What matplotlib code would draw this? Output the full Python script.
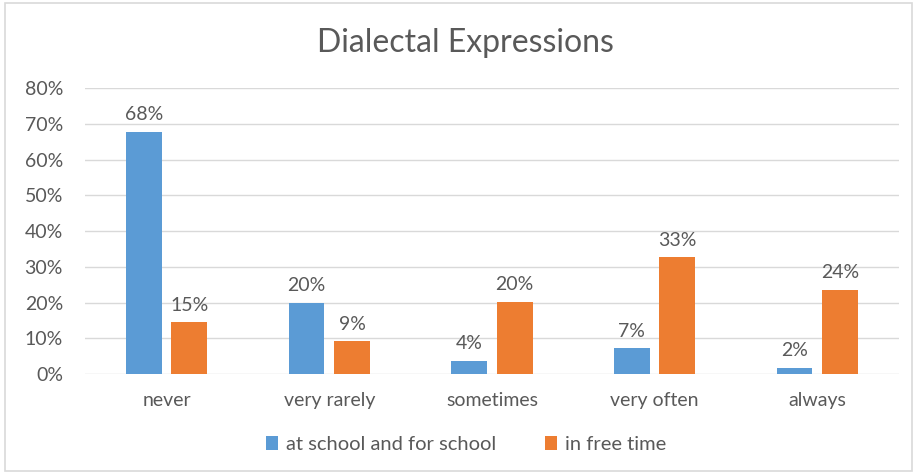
import numpy as np
import matplotlib
matplotlib.use("Agg")
import matplotlib.pyplot as plt
from matplotlib.patches import Rectangle

categories = ["never", "very rarely", "sometimes", "very often", "always"]
school = [67.8, 19.9, 3.7, 7.2, 1.8]
free_time = [14.5, 9.2, 20.2, 32.7, 23.5]
school_labels = ["68%", "20%", "4%", "7%", "2%"]
free_labels = ["15%", "9%", "20%", "33%", "24%"]
yticks = [0, 10, 20, 30, 40, 50, 60, 70, 80]

blue = "#5B9BD5"
orange = "#ED7D31"
grey_txt = "#595959"

plt.rcParams["font.family"] = ["Lato", "DejaVu Sans"]

fig = plt.figure(figsize=(9.16, 4.74), dpi=100)
ax = fig.add_axes([0.093, 0.211, 0.888, 0.603])

x = np.arange(len(categories))
w = 0.22
b1 = ax.bar(x - 0.14, school, w, color=blue, label="at school and for school")
b2 = ax.bar(x + 0.14, free_time, w, color=orange, label="in free time")

for bars, labs in ((b1, school_labels), (b2, free_labels)):
    for r, t in zip(bars, labs):
        ax.text(r.get_x() + r.get_width() / 2, r.get_height() + 2.4, t,
                ha="center", va="bottom", fontsize=14, color=grey_txt)

ax.set_xlim(-0.5, len(categories) - 0.5)
ax.set_ylim(0, 80)
ax.set_yticks(yticks)
ax.set_yticklabels([f"{v}%" for v in yticks])
ax.set_xticks(x)
ax.set_xticklabels(categories)
ax.tick_params(axis="both", length=0, colors=grey_txt, labelsize=14)
ax.tick_params(axis="x", pad=13)
ax.tick_params(axis="y", pad=16)
ax.yaxis.grid(True, color="#D9D9D9", linewidth=1)
ax.set_axisbelow(True)
for s in ax.spines.values():
    s.set_visible(False)

fig.text(0.508, 0.91, "Dialectal Expressions", ha="center", va="center",
         fontsize=23, color=grey_txt)

fig.legend(handles=[b1, b2], loc="center", bbox_to_anchor=(0.509, 0.063),
           ncol=2, frameon=False, fontsize=14.5, handlelength=0.6,
           handleheight=0.7, handletextpad=0.4, columnspacing=2.4,
           labelcolor=grey_txt)

fig.patches.append(Rectangle((0.006, 0.006), 0.99, 0.988, transform=fig.transFigure,
                             fill=False, edgecolor="#D9D9D9", linewidth=1.2))

fig.savefig("out.png", dpi=100)
